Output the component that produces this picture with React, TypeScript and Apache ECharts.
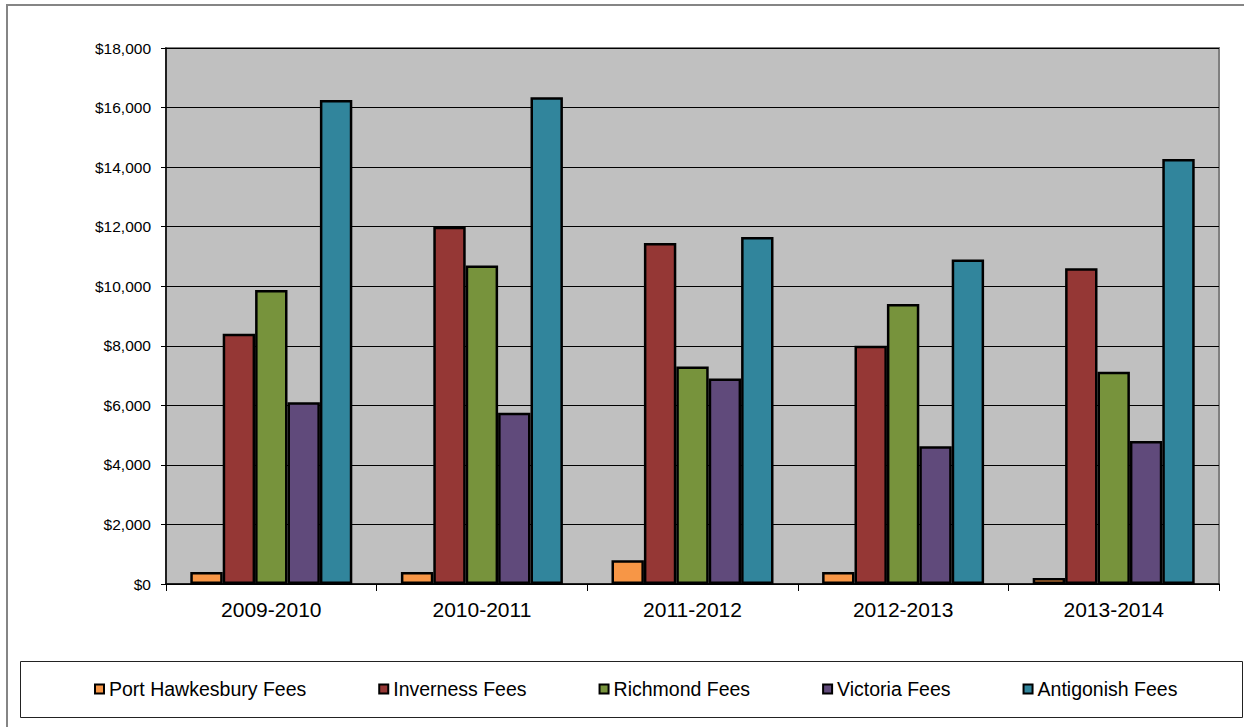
import React, { useEffect, useRef } from "react";
import * as echarts from "echarts";

const categories = ["2009-2010", "2010-2011", "2011-2012", "2012-2013", "2013-2014"];
const seriesNames = [
  "Port Hawkesbury Fees",
  "Inverness Fees",
  "Richmond Fees",
  "Victoria Fees",
  "Antigonish Fees",
];
const portHawkesbury = [400, 400, 800, 400, 200];
const inverness = [8400, 12000, 11450, 8000, 10600];
const richmond = [9870, 10700, 7300, 9400, 7130];
const victoria = [6100, 5750, 6900, 4630, 4800];
const antigonish = [16250, 16350, 11650, 10900, 14270];
const seriesValues = [portHawkesbury, inverness, richmond, victoria, antigonish];
const colors = ["#F79646", "#953735", "#77933C", "#604A7B", "#31859C"];

const FONT = "'Liberation Sans', Arial, sans-serif";

export default function App() {
  const ref = useRef<HTMLDivElement>(null);
  useEffect(() => {
    if (!ref.current) return;
    const chart = echarts.init(ref.current, null, { renderer: "svg" });
    chart.setOption({
      animation: false,
      backgroundColor: "#ffffff",
      textStyle: { fontFamily: FONT },
      graphic: [
        {
          type: "rect",
          z: 0,
          shape: { x: 7, y: 5, width: 1270, height: 760 },
          style: { fill: "none", stroke: "#858585", lineWidth: 2 },
        },
        {
          type: "rect",
          z: 0,
          shape: { x: 20.5, y: 661.5, width: 1222, height: 56 },
          style: { fill: "#ffffff", stroke: "#222222", lineWidth: 1 },
        },
      ],
      grid: {
        left: 166,
        top: 48,
        right: 25,
        bottom: 143,
        show: true,
        backgroundColor: "#C0C0C0",
        borderColor: "#808080",
        borderWidth: 2,
      },
      legend: {
        data: seriesNames,
        left: 94,
        top: 679,
        padding: 0,
        itemGap: 72,
        itemWidth: 9,
        itemHeight: 9,
        icon: "rect",
        itemStyle: { borderColor: "#000", borderWidth: 2 },
        textStyle: { fontSize: 19.5, color: "#000", fontFamily: FONT },
      },
      xAxis: {
        type: "category",
        data: categories,
        axisLine: { lineStyle: { color: "#000", width: 1.5 } },
        axisTick: { show: true, length: 7, lineStyle: { color: "#000" } },
        axisLabel: { color: "#000", fontSize: 21, margin: 15, fontFamily: FONT },
        splitLine: { show: false },
      },
      yAxis: {
        type: "value",
        min: 0,
        max: 18000,
        interval: 2000,
        axisLine: { show: true, lineStyle: { color: "#000", width: 1.5 } },
        axisTick: { show: true, length: 5, lineStyle: { color: "#000" } },
        axisLabel: {
          color: "#000",
          fontSize: 15.5,
          margin: 15,
          fontFamily: FONT,
          formatter: (v: number) => "$" + v.toLocaleString("en-US"),
        },
        splitLine: { show: true, lineStyle: { color: "#000", width: 1 } },
      },
      series: seriesNames.map((name, i) => ({
        name,
        type: "bar",
        data: seriesValues[i],
        barWidth: 32.4,
        barGap: "0%",
        itemStyle: { color: colors[i], borderColor: "#000", borderWidth: 2.5 },
      })),
    });
    return () => chart.dispose();
  }, []);
  return (
    <div
      ref={ref}
      style={{ position: "absolute", left: 0, top: 0, width: 1244, height: 727 }}
    />
  );
}
